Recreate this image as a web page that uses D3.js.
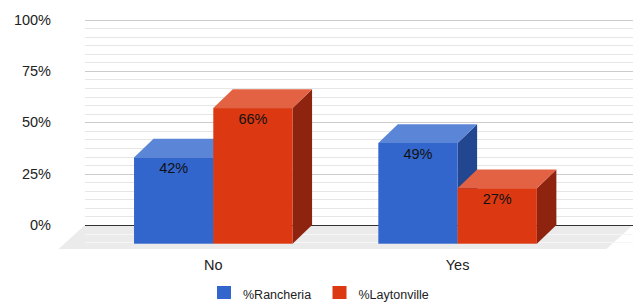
<!DOCTYPE html>
<html>
<head>
<meta charset="utf-8">
<script src="https://cdn.jsdelivr.net/npm/d3@7"></script>
<style>
  body { margin: 0; background: #fff; }
  svg { display: block; font-family: Arial, "Liberation Sans", sans-serif; }
</style>
</head>
<body>
<div id="chart"></div>
<script>
const categories = ["No", "Yes"]
const series = ["%Rancheria", "%Laytonville"]
const rancheria = [0.42, 0.49]
const laytonville = [0.66, 0.27]
const tickValues = [0, 0.25, 0.5, 0.75, 1]
const tickLabels = ["0%", "25%", "50%", "75%", "100%"]

const colors = {
    "%Rancheria": { front: "#3366cc", top: "#5b85d6", side: "#234690" },
    "%Laytonville": { front: "#dc3912", top: "#e36243", side: "#8e2410" }
}

const width = 639, height = 302
// back wall of the plot
const wallLeft = 85, wallRight = 633
// 3d depth offset (front face is shifted left/down)
const depthX = 19.5, depthY = 18.7

const svg = d3.select("#chart").append("svg")
    .attr("width", width)
    .attr("height", height)

const y = d3.scaleLinear().domain([0, 1]).range([225, 19.5])

const x = d3.scaleBand()
    .domain(categories)
    .range([91.15, 579.75])
    .paddingInner(0.351)
    .paddingOuter(0.1755)

const xs = d3.scaleBand().domain(series).range([0, x.bandwidth()])

// floor
const floorTop = y(0), floorBottom = floorTop + 24
svg.append("path")
    .attr("d", `M${wallLeft},${floorTop} L${wallRight},${floorTop} L${wallRight - 26.5},${floorBottom} L${wallLeft - 26.5},${floorBottom} Z`)
    .attr("fill", "#ebebeb")

// gridlines, 6 minor steps per major step, a couple below zero over the floor
const gridVals = d3.range(-2, 25).map(i => i / 24)
svg.append("g").selectAll("line")
    .data(gridVals)
    .join("line")
    .attr("x1", wallLeft)
    .attr("x2", wallRight)
    .attr("y1", d => Math.round(y(d)) + 0.5)
    .attr("y2", d => Math.round(y(d)) + 0.5)
    .attr("stroke", (d, i) => d < 0 ? "#f6f6f6" : (i - 2) % 6 === 0 ? "#cccccc" : "#e6e6e6")
    .attr("stroke-width", 1)

// zero line
svg.append("line")
    .attr("x1", wallLeft).attr("x2", wallRight)
    .attr("y1", Math.round(y(0)) + 0.5).attr("y2", Math.round(y(0)) + 0.5)
    .attr("stroke", "#333333")

// y labels
svg.append("g").selectAll("text")
    .data(tickValues)
    .join("text")
    .attr("x", 51)
    .attr("y", d => y(d))
    .attr("dy", "0.35em")
    .attr("text-anchor", "end")
    .attr("font-size", 14.5)
    .attr("fill", "#222")
    .text((d, i) => tickLabels[i])

// bars
const bars = []
categories.forEach((c, i) => {
    bars.push({ cat: c, s: series[0], v: rancheria[i] })
    bars.push({ cat: c, s: series[1], v: laytonville[i] })
})

const g = svg.append("g")
bars.forEach(b => {
    const w = xs.bandwidth()
    const xf = x(b.cat) + xs(b.s)
    const yf = y(b.v) + depthY
    const yb = y(0) + depthY
    const col = colors[b.s]
    const bar = g.append("g")
    // side
    bar.append("path")
        .attr("d", `M${xf + w},${yf} L${xf + w + depthX},${yf - depthY} L${xf + w + depthX},${yb - depthY} L${xf + w},${yb} Z`)
        .attr("fill", col.side)
    // top
    bar.append("path")
        .attr("d", `M${xf},${yf} L${xf + w},${yf} L${xf + w + depthX},${yf - depthY} L${xf + depthX},${yf - depthY} Z`)
        .attr("fill", col.top)
    // front
    bar.append("rect")
        .attr("x", xf).attr("y", yf)
        .attr("width", w).attr("height", yb - yf)
        .attr("fill", col.front)
    bar.append("text")
        .attr("x", xf + w / 2)
        .attr("y", yf + 15.5)
        .attr("text-anchor", "middle")
        .attr("font-size", 14.5)
        .attr("fill", "#111")
        .text(Math.round(b.v * 100) + "%")
})

// category labels
svg.append("g").selectAll("text")
    .data(categories)
    .join("text")
    .attr("x", d => x(d) + x.bandwidth() / 2)
    .attr("y", 270)
    .attr("text-anchor", "middle")
    .attr("font-size", 14.5)
    .attr("fill", "#222")
    .text(d => d)

// legend
const legendX = [217, 332.5]
const legend = svg.append("g").selectAll("g")
    .data(series)
    .join("g")
    .attr("transform", (d, i) => `translate(${legendX[i]},286)`)
legend.append("rect")
    .attr("width", 14).attr("height", 13)
    .attr("fill", d => colors[d].front)
legend.append("text")
    .attr("x", 26)
    .attr("y", 13)
    .attr("font-size", 12.5)
    .attr("fill", "#222")
    .text(d => d)
</script>
</body>
</html>
